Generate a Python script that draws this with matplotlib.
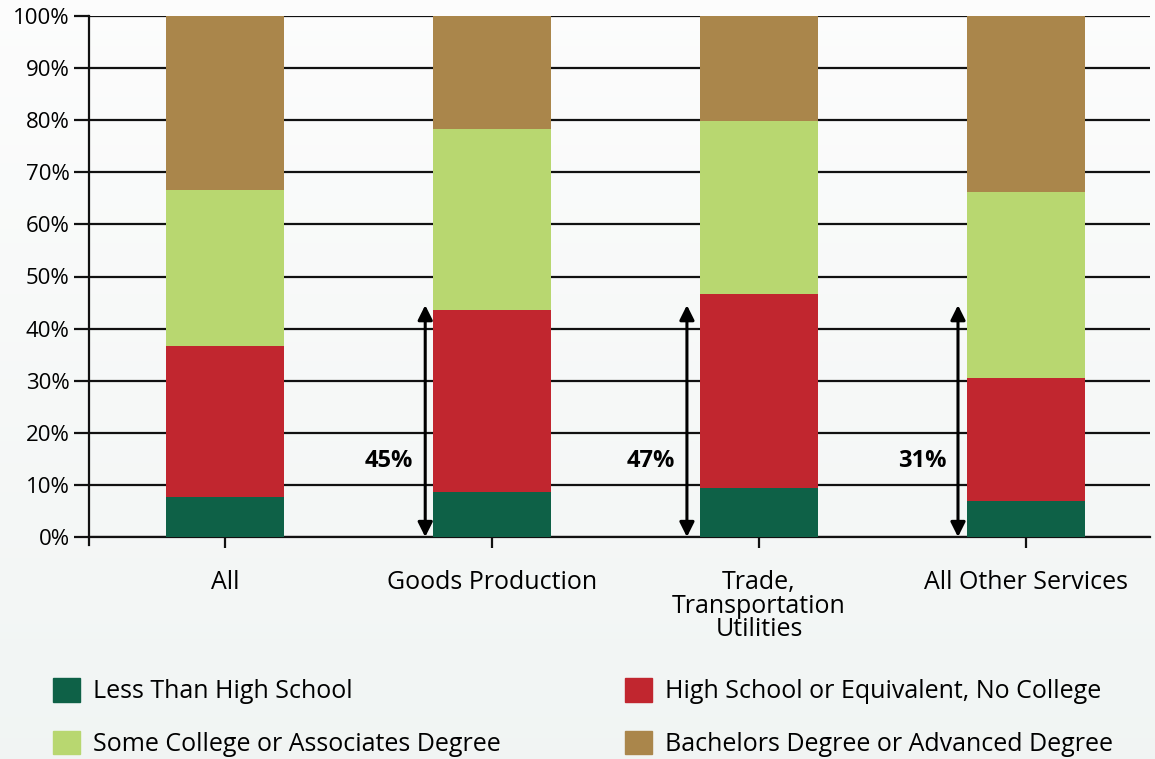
import numpy as np
import matplotlib
matplotlib.use("Agg")
import matplotlib.pyplot as plt
from matplotlib.patches import Patch

plt.rcParams['font.family'] = ['Open Sans', 'DejaVu Sans']

sectors = ['All', 'Goods Production', 'Trade,\nTransportation\nUtilities', 'All Other Services']
levels = ['Less Than High School', 'High School or Equivalent, No College',
          'Some College or Associates Degree', 'Bachelors Degree or Advanced Degree']
less_hs = [7.7, 8.6, 9.4, 6.9]
hs_only = [29.0, 35.0, 37.2, 23.6]
some_college = [29.9, 34.7, 33.2, 35.7]
bachelors = [33.4, 21.7, 20.2, 33.8]
colors = ['#0e6147', '#c1262f', '#b8d770', '#aa864b']

# share with high school or less, marked by arrows beside sectors 1-3
hs_or_less_labels = ['45%', '47%', '31%']
arrow_top = 44.5

fig = plt.figure(figsize=(11.55, 7.59), dpi=100)

# soft vertical background wash
bg = fig.add_axes([0, 0, 1, 1], zorder=-10)
grad = np.linspace(0, 1, 256).reshape(-1, 1)
top = np.array([0.99, 0.99, 0.99])
bot = np.array([0.945, 0.960, 0.955])
img = top + (bot - top) * grad[..., None]
bg.imshow(img, aspect='auto', extent=[0, 1, 0, 1])
bg.axis('off')

ax = fig.add_axes([89 / 1155, 1 - 537 / 759, (1150 - 89) / 1155, (537 - 16) / 759])
ax.set_facecolor('none')

x = np.arange(len(sectors))
series = [less_hs, hs_only, some_college, bachelors]
bottom = np.zeros(len(sectors))
for vals, col, lab in zip(series, colors, levels):
    ax.bar(x, vals, 0.44, bottom=bottom, color=col, label=lab, zorder=3)
    bottom += np.array(vals)

ax.set_xlim(-0.509, 3.464)
ax.set_ylim(0, 100)
ax.set_yticks(np.arange(0, 101, 10))
ax.set_yticklabels([f'{v}%' for v in range(0, 101, 10)])
ax.yaxis.grid(True, color='#111111', lw=1.6, zorder=1)
ax.set_xticks(x)
ax.set_xticklabels(sectors, linespacing=0.92)
for s in ['top', 'right', 'left']:
    ax.spines[s].set_visible(False)
ax.spines['bottom'].set_linewidth(1.6)
ax.spines['bottom'].set_color('#111111')
ax.plot([0, 0], [-0.016, 1], transform=ax.transAxes, color='#111111', lw=1.6,
        clip_on=False, zorder=4)
ax.tick_params(axis='y', length=11, width=1.6, color='#111111', labelsize=16, pad=3)
ax.tick_params(axis='x', length=8, width=1.6, color='#111111', labelsize=18, pad=16)

# arrows showing high school or less share
arrow_x = [1 - 0.25, 2 - 0.27, 3 - 0.255]
for xi, lab in zip(arrow_x, hs_or_less_labels):
    ax.annotate('', xy=(xi, 0), xytext=(xi, arrow_top),
                arrowprops=dict(arrowstyle='<|-|>', color='black', lw=2.2,
                                mutation_scale=22, shrinkA=0, shrinkB=0),
                zorder=5)
    ax.text(xi - 0.135, 14.5, lab, ha='center', va='center', fontsize=17,
            fontweight='bold', zorder=5)

handles = [Patch(color=c) for c in colors]
order = [0, 2, 1, 3]
fig.legend([handles[i] for i in order], [levels[i] for i in order],
           ncol=2, loc='lower left', bbox_to_anchor=(0.0265, -0.027),
           frameon=False, fontsize=18, handlelength=1.08, handleheight=1.08,
           handletextpad=0.5, columnspacing=5.0, labelspacing=1.05,
           borderpad=0.4)

fig.savefig('out.png', dpi=100)
